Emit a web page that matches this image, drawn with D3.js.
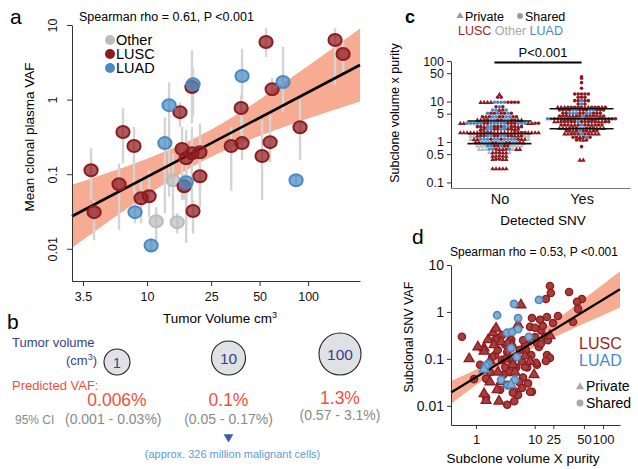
<!DOCTYPE html>
<html>
<head>
<meta charset="utf-8">
<script src="https://cdn.jsdelivr.net/npm/d3@7"></script>
<style>
  body { margin: 0; background: #fff; }
  text { font-family: "Liberation Sans", Arial, Helvetica, sans-serif; }
</style>
</head>
<body>
<svg id="fig" width="638" height="469"></svg>
<script>
// ---------- panel a data: [tumour volume, mean clonal VAF, low, high]
const aOther = [
  [11.4, 0.0234, 0.0122, 0.036], [14.5, 0.083, 0.0242, 0.191], [15.4, 0.0227, 0.0161, 0.03]
];
const aLUSC = [
  [4.49, 0.113, 0.045, 0.223], [4.69, 0.031, 0.013, 0.045], [6.7, 0.0735, 0.018, 0.14],
  [7.09, 0.367, 0.14, 0.77], [8.3, 0.238, 0.056, 0.43], [9.18, 0.0476, 0.022, 0.091],
  [10.3, 0.0507, 0.0265, 0.113], [16.0, 0.679, 0.43, 0.92], [16.5, 0.217, 0.045, 0.43],
  [17.0, 0.069, 0.045, 0.1], [17.5, 0.164, 0.012, 0.39], [19.0, 1.47, 0.48, 4.6],
  [19.0, 0.191, 0.036, 0.43], [19.3, 0.032, 0.016, 0.045], [21.3, 0.197, 0.06, 0.48],
  [21.3, 0.094, 0.036, 0.18], [33.3, 0.238, 0.06, 0.43], [38.4, 0.769, 0.333, 1.15],
  [38.9, 0.261, 0.154, 0.58], [51.8, 0.175, 0.045, 0.53], [54.8, 5.92, 3.72, 9.1],
  [58.1, 0.269, 0.145, 0.62], [59.8, 1.38, 1.05, 1.95], [89.1, 0.427, 0.154, 1.0],
  [147, 6.3, 1.57, 9.1], [165, 4.08, 2.34, 5.92]
];
const aLUAD = [
  [8.42, 0.031, 0.022, 0.061], [10.6, 0.0111, 0.009, 0.014], [12.9, 0.261, 0.03, 0.58],
  [13.7, 0.843, 0.05, 1.7], [17.5, 0.078, 0.04, 0.2], [19.3, 1.61, 0.6, 2.7],
  [38.9, 2.07, 1.0, 4.8], [69.9, 1.72, 0.68, 5.07], [84.2, 0.083, 0.07, 0.1]
];
const aFitX = [3.42, 210], aFitY = [0.0273, 2.91];
const aBandX = [3.42, 5, 10, 20, 40, 80, 210];
const aBandLo = [0.0103, 0.0186, 0.0525, 0.133, 0.27, 0.471, 0.942];
const aBandHi = [0.0723, 0.0948, 0.161, 0.307, 0.728, 2.02, 8.99];
const aXTicks = [4, 10, 25, 50, 100], aXTickLabels = ["3.5", "10", "25", "50", "100"];
const aYTicks = [10, 1, 0.1, 0.01];

// ---------- panel b data
const bVolumes = [1, 10, 100];
const bVAF = ["0.006%", "0.1%", "1.3%"];
const bCI = ["(0.001 - 0.03%)", "(0.05 - 0.17%)", "(0.57 - 3.1%)"];

// ---------- panel c data: rows of [value, points]  T/R = LUSC private/shared, b/B = LUAD, g/G = Other
const cNo = [
  [15.1, "T"], [12.7, "RR"], [9.55, "TTTTBBBBRRRR"], [7.44, "RBR"], [6.17, "BBTRB"],
  [5.11, "BRRBRRBR"], [4.21, "RTRBBRRBBRR"], [3.49, "TTRRBBRRBBRRTT"],
  [2.9, "TTBBBBBRRBBBBBRRRBBBTTRR"], [2.39, "RRTBBRRRBBRRTR"], [2.06, "TRBBRRBBRRTR"],
  [1.7, "TTTTTTRRRRTTTTTTRRRRTTTT"], [1.41, "ggTRRBBRRBBRRTTRgg"], [1.17, "gTTBBBRBBRBBBBRTTg"],
  [0.96, "RRBBBRRBBRRBBRT"], [0.8, "ggGBBRRBRRGGgg"], [0.66, "gggBBRTTRBgTT"],
  [0.544, "gTRRTTg"], [0.451, "TTRTT"], [0.374, "TRRTT"], [0.219, "TTTTT"]
];
const cYes = [
  [41, "R"], [37.4, "R"], [29.2, "R"], [21.2, "R"], [15.3, "RRRRR"], [12.7, "RRR"],
  [10.5, "RRBRR"], [8.67, "RBR"], [7.18, "TTTRRRRRTTRRRTR"], [6.17, "RRRRBBRRRBBRRR"],
  [5.11, "RRBBBRRBBRRR"], [4.39, "RRRTTRRBRRRRTR"], [3.76, "BBRRRTTTRRBRRTTRRRRRR"],
  [3.18, "TTRRRRRBRRRRRTTRR"], [2.63, "RRRTTRBRRTRRR"], [2.18, "TTTRRRBBRRRTTT"],
  [1.87, "RRTRBRRTRR"], [1.58, "TTRRRBRRTTT"], [1.31, "RRTRBR"], [1.12, "RRTR"],
  [0.766, "R"], [0.36, "TT"]
];
const cQuartNo = [0.91, 1.6, 3.3], cQuartYes = [2.13, 3.76, 6.6];
const cYTicks = [100, 50, 10, 5, 1, 0.5, 0.1];

// ---------- panel d data: [subclone volume x purity, subclonal VAF]
const dLUSCShared = [
  [0.6, 0.295], [14.6, 3.57], [15.1, 2.53], [12.6, 1.89], [29.2, 2.66], [46.5, 1.89], [39, 1.64],
  [40.4, 1.16], [33.7, 0.61], [13.1, 0.78], [19.5, 0.82], [16.3, 0.58], [10.2, 0.68], [12.2, 0.3],
  [13.6, 0.25], [9.8, 0.18], [13.1, 0.12], [14.6, 0.105], [9.1, 0.075], [7.6, 0.02], [10.5, 0.41],
  [8.8, 0.082], [1.44, 0.015], [4.0, 0.0125], [4.6, 0.017], [7.1, 0.02], [5.5, 0.04], [6.4, 0.066],
  [7.1, 0.48], [8.5, 0.46], [11.3, 0.5], [9.1, 0.22], [6.4, 0.24], [10.5, 0.21], [12.6, 0.09],
  [5.9, 0.068], [4.8, 0.032], [4.0, 0.021], [3.1, 0.0105], [0.93, 0.037], [2.0, 0.12], [2.57, 0.095],
  [3.1, 0.14], [3.7, 0.088], [2.9, 0.066], [2.2, 0.155], [1.8, 0.11], [3.4, 0.052], [4.3, 0.066],
  [5.3, 0.088], [4.9, 0.155], [5.9, 0.2], [2.7, 0.046], [3.1, 0.028], [3.8, 0.019], [1.66, 0.052],
  [1.16, 0.075], [1.44, 0.038], [2.4, 0.022], [5.3, 0.024], [6.6, 0.03], [5.5, 0.25], [2.0, 0.254],
  [2.57, 0.32], [3.6, 0.254], [2.9, 0.2], [7.4, 0.12], [6.1, 0.155], [7.6, 0.74], [8.5, 0.29]
];
const dLUSCPrivate = [
  [0.78, 0.1], [1.34, 0.17], [1.34, 0.145], [1.55, 0.254], [1.86, 0.36], [1.92, 0.2], [2.48, 0.23],
  [3.19, 0.22], [5.1, 1.41], [4.6, 0.53], [2.22, 0.052], [2.48, 0.033], [2.15, 0.022], [2.3, 0.0125],
  [1.44, 0.013], [8.2, 0.046], [14.6, 0.31], [4.1, 0.052], [5.9, 0.115], [3.7, 0.2], [1.66, 0.09],
  [2.9, 0.1], [3.8, 0.075], [1.07, 0.18], [7.1, 0.088], [2.07, 0.45], [1.34, 0.018], [1.66, 0.032]
];
const dLUADShared = [
  [2.15, 0.85], [3.97, 1.48], [4.6, 0.74], [3.08, 0.36], [3.69, 0.375], [4.6, 0.43], [6.8, 0.295],
  [9.8, 1.8], [3.55, 0.17], [4.4, 0.11], [1.55, 0.078], [2.48, 0.0357], [4.1, 0.0357], [1.44, 0.071],
  [3.19, 0.027]
];
const dLUADPrivate = [[1.34, 0.06], [3.55, 0.028]];
const dFitX = [0.404, 185], dFitY = [0.0192, 3.04];
const dBandX = [0.404, 1, 3.98, 15.8, 63.1, 185];
const dBandLo = [0.0109, 0.0276, 0.101, 0.271, 0.646, 1.25];
const dBandHi = [0.0337, 0.0596, 0.16, 0.585, 2.41, 7.4];
const dXTicks = [1, 8.4, 16.5, 50, 100], dXTickLabels = ["1", "10", "25", "50", "100"];
const dYTicks = [10, 1, 0.1, 0.01];

// ---------- colours
const RED = "#8e1b1f", BLUE = "#4a8ac4", GREY = "#bcbcbc", BAND = "#f6ab92";
const typeColor = { T: RED, R: RED, b: BLUE, B: BLUE, g: GREY, G: GREY };

const svg = d3.select("#fig");

function styleAxis(g, size) {
  g.selectAll("path.domain").attr("stroke", "#333").attr("stroke-width", 1);
  g.selectAll(".tick line").attr("stroke", "#333");
  g.selectAll(".tick text").attr("font-size", size).attr("fill", "#111")
    .style("font-family", '"Liberation Sans", Arial, sans-serif');
}

// ================= panel a =================
const ga = svg.append("g");
const ax = d3.scaleLog().domain([3.42, 210]).range([72, 360]);
const ay = d3.scaleLog().domain([0.0037, 10]).range([281, 25]);

ga.append("path").datum(aBandX)
  .attr("d", d3.area().curve(d3.curveMonotoneX)
    .x(d => ax(d))
    .y0((d, i) => ay(aBandLo[i]))
    .y1((d, i) => ay(aBandHi[i])))
  .attr("fill", BAND);

const aAll = [].concat(
  aOther.map(d => ({ d: d, c: GREY })),
  aLUSC.map(d => ({ d: d, c: RED })),
  aLUAD.map(d => ({ d: d, c: BLUE }))
);

ga.selectAll(".ebar").data(aAll).join("line")
  .attr("x1", p => ax(p.d[0])).attr("x2", p => ax(p.d[0]))
  .attr("y1", p => ay(p.d[2])).attr("y2", p => ay(p.d[3]))
  .attr("stroke", "#d4d4d4").attr("stroke-width", 2.4);

ga.append("line")
  .attr("x1", ax(aFitX[0])).attr("y1", ay(aFitY[0]))
  .attr("x2", ax(aFitX[1])).attr("y2", ay(aFitY[1]))
  .attr("stroke", "#000").attr("stroke-width", 2.6);

ga.selectAll(".pt").data(aAll).join("ellipse")
  .attr("cx", p => ax(p.d[0])).attr("cy", p => ay(p.d[1]))
  .attr("rx", 6.6).attr("ry", 6)
  .attr("fill", p => p.c).attr("fill-opacity", 0.72)
  .attr("stroke", p => p.c).attr("stroke-width", 2);

const axA = ga.append("g").attr("transform", "translate(0,281)")
  .call(d3.axisBottom(ax).tickValues(aXTicks).tickFormat((d, i) => aXTickLabels[i])
    .tickSize(5).tickSizeOuter(0).tickPadding(6));
styleAxis(axA, 12.5);
const ayA = ga.append("g").attr("transform", "translate(72,0)")
  .call(d3.axisLeft(ay).tickValues(aYTicks).tickFormat(d3.format("~g")).tickSize(5).tickSizeOuter(0));
styleAxis(ayA, 12.5);
ayA.selectAll(".tick text").attr("transform", "rotate(-90)")
  .attr("text-anchor", "middle").attr("x", 0).attr("y", -15).attr("dy", 0);

ga.append("text").attr("x", 10).attr("y", 24).attr("font-size", 21).text("a");
ga.append("text").attr("x", 79).attr("y", 21).attr("font-size", 12.5).text("Spearman rho = 0.61, P <0.001");
ga.append("text").attr("transform", "translate(34,137) rotate(-90)")
  .attr("text-anchor", "middle").attr("font-size", 13.5).text("Mean clonal plasma VAF");
ga.append("text").attr("x", 220).attr("y", 323).attr("text-anchor", "middle").attr("font-size", 13.5)
  .text("Tumor Volume cm").append("tspan").attr("dy", -5).attr("font-size", 9).text("3");

const aLegend = [["Other", GREY], ["LUSC", RED], ["LUAD", BLUE]];
aLegend.forEach((l, i) => {
  ga.append("circle").attr("cx", 110).attr("cy", 40 + i * 14).attr("r", 5).attr("fill", l[1]);
  ga.append("text").attr("x", 116).attr("y", 45 + i * 14).attr("font-size", 14.5).text(l[0]);
});

// ================= panel b =================
const gb = svg.append("g");
const bx = d3.scaleLog().domain([1, 100]).range([117, 340]);
const br = d3.scaleLog().domain([1, 100]).range([13, 21]);
gb.append("text").attr("x", 7).attr("y", 329).attr("font-size", 21).text("b");
gb.append("text").attr("x", 12).attr("y", 347).attr("font-size", 13).attr("fill", "#3a3d8c").text("Tumor volume");
const cm = gb.append("text").attr("x", 97).attr("y", 365).attr("font-size", 13).attr("fill", "#3a3d8c")
  .attr("text-anchor", "end");
cm.append("tspan").text("(cm");
cm.append("tspan").attr("dy", -5).attr("font-size", 9).text("3");
cm.append("tspan").attr("dy", 5).text(")");
gb.selectAll(".vol").data(bVolumes).join("circle")
  .attr("cx", d => bx(d)).attr("cy", d => 375 - br(d)).attr("r", d => br(d))
  .attr("fill", "#dfe1e4").attr("stroke", "#222").attr("stroke-width", 1.1);
gb.selectAll(".voltxt").data(bVolumes).join("text")
  .attr("x", d => bx(d)).attr("y", d => 375 - br(d) + 5.5).attr("text-anchor", "middle")
  .attr("font-size", d => d === 1 ? 14 : 15.5).attr("fill", "#3a3d8c").text(d => d);
gb.append("text").attr("x", 12).attr("y", 390).attr("font-size", 13).attr("fill", "#f0503c").text("Predicted VAF:");
gb.selectAll(".vaf").data(bVolumes).join("text")
  .attr("x", d => bx(d)).attr("y", (d, i) => i === 2 ? 404 : 406).attr("text-anchor", "middle")
  .attr("font-size", 17.5).attr("fill", "#f0503c").text((d, i) => bVAF[i]);
gb.selectAll(".ci").data(bVolumes).join("text")
  .attr("x", (d, i) => bx(d) + (i === 0 ? 5 : 0)).attr("y", (d, i) => i === 2 ? 420 : 424)
  .attr("text-anchor", (d, i) => i === 0 ? "start" : "middle")
  .attr("dx", (d, i) => i === 0 ? -57 : 0)
  .attr("font-size", 14).attr("fill", "#8a8a8a").text((d, i) => bCI[i]);
gb.append("text").attr("x", 15).attr("y", 424).attr("font-size", 12).attr("fill", "#8a8a8a").text("95% CI");
gb.append("path").attr("d", d3.symbol().type(d3.symbolTriangle).size(40)())
  .attr("transform", `translate(${bx(10)},437) rotate(180)`).attr("fill", "#3a5ca8");
gb.append("text").attr("x", bx(10) + 4).attr("y", 458).attr("text-anchor", "middle")
  .attr("font-size", 11).attr("fill", "#5b9bd5").text("(approx. 326 million malignant cells)");

// ================= panel c =================
const gc = svg.append("g");
const cy = d3.scaleLog().domain([0.073, 100]).range([188, 61]);
const cx = d3.scalePoint().domain(["No", "Yes"]).range([451, 630]).padding(0.59);
const cStep = 3.4;
const tri = d3.symbol().type(d3.symbolTriangle);

const cPts = [];
[["No", cNo], ["Yes", cYes]].forEach(([grp, rows]) => {
  rows.forEach(([v, s]) => {
    s.split("").forEach((k, i) => {
      cPts.push({ x: cx(grp) + (i - (s.length - 1) / 2) * cStep, y: cy(v), k: k });
    });
  });
});
gc.selectAll(".cdot").data(cPts.filter(p => "RBG".includes(p.k))).join("circle")
  .attr("cx", p => p.x).attr("cy", p => p.y).attr("r", 1.8).attr("fill", p => typeColor[p.k]);
gc.selectAll(".ctri").data(cPts.filter(p => "Tbg".includes(p.k))).join("path")
  .attr("d", tri.size(10)()).attr("transform", p => `translate(${p.x},${p.y + 0.3})`)
  .attr("fill", p => typeColor[p.k]);

[["No", cQuartNo], ["Yes", cQuartYes]].forEach(([grp, q]) => {
  gc.selectAll(null).data(q).join("line")
    .attr("x1", cx(grp) - 32).attr("x2", cx(grp) + 32)
    .attr("y1", d => cy(d)).attr("y2", d => cy(d))
    .attr("stroke", "#111").attr("stroke-width", 1.6);
});

const cyA = gc.append("g").attr("transform", "translate(451,0)")
  .call(d3.axisLeft(cy).tickValues(cYTicks).tickFormat(d3.format("~g")).tickSize(4).tickSizeOuter(0));
styleAxis(cyA, 12.5);
const cxA = gc.append("g").attr("transform", "translate(0,188)")
  .call(d3.axisBottom(cx).tickSize(0).tickPadding(6));
styleAxis(cxA, 14.5);
cxA.select("path.domain").attr("stroke", "#777");

gc.append("line").attr("x1", cx("No") - 5).attr("x2", cx("Yes")).attr("y1", 62.5).attr("y2", 62.5)
  .attr("stroke", "#000").attr("stroke-width", 2.2);
gc.append("text").attr("x", 543).attr("y", 57).attr("text-anchor", "middle").attr("font-size", 13).text("P<0.001");
gc.append("text").attr("x", 405).attr("y", 23).attr("font-size", 18).attr("font-weight", "bold").text("c");
gc.append("text").attr("transform", "translate(399,113) rotate(-90)")
  .attr("text-anchor", "middle").attr("font-size", 12.5).text("Subclone volume x purity");
gc.append("text").attr("x", 543).attr("y", 225).attr("text-anchor", "middle").attr("font-size", 13.5).text("Detected SNV");
gc.append("path").attr("d", tri.size(22)()).attr("transform", "translate(460,16)").attr("fill", "#9a9a9a");
gc.append("text").attr("x", 465).attr("y", 20.5).attr("font-size", 12.5).text("Private");
gc.append("circle").attr("cx", 520).attr("cy", 16).attr("r", 3).attr("fill", "#9a9a9a");
gc.append("text").attr("x", 525).attr("y", 20.5).attr("font-size", 12.5).text("Shared");
const cLeg = gc.append("text").attr("x", 458).attr("y", 35).attr("font-size", 12.5);
cLeg.append("tspan").attr("fill", "#a01e24").text("LUSC ");
cLeg.append("tspan").attr("fill", "#a9a9a9").text("Other ");
cLeg.append("tspan").attr("fill", BLUE).text("LUAD");

// ================= panel d =================
const gd = svg.append("g");
const dx = d3.scaleLog().domain([0.404, 185]).range([451, 620]);
const dy = d3.scaleLog().domain([0.0039, 10]).range([425, 265]);

gd.append("path").datum(dBandX)
  .attr("d", d3.area().curve(d3.curveMonotoneX)
    .x(d => dx(d))
    .y0((d, i) => dy(dBandLo[i]))
    .y1((d, i) => dy(dBandHi[i])))
  .attr("fill", BAND);

gd.selectAll(".dr").data(dLUSCShared).join("circle")
  .attr("cx", d => dx(d[0])).attr("cy", d => dy(d[1])).attr("r", 3.6)
  .attr("fill", "#a3403c").attr("stroke", RED).attr("stroke-width", 1.4);
gd.selectAll(".dt").data(dLUSCPrivate).join("path")
  .attr("d", tri.size(42)()).attr("transform", d => `translate(${dx(d[0])},${dy(d[1])})`)
  .attr("fill", "#a3403c").attr("stroke", RED).attr("stroke-width", 1.3);
gd.append("line")
  .attr("x1", dx(dFitX[0])).attr("y1", dy(dFitY[0]))
  .attr("x2", dx(dFitX[1])).attr("y2", dy(dFitY[1]))
  .attr("stroke", "#000").attr("stroke-width", 2.2);
gd.selectAll(".db").data(dLUADShared).join("circle")
  .attr("cx", d => dx(d[0])).attr("cy", d => dy(d[1])).attr("r", 3.6)
  .attr("fill", "#86acd2").attr("stroke", BLUE).attr("stroke-width", 1.6);
gd.selectAll(".dbt").data(dLUADPrivate).join("path")
  .attr("d", tri.size(42)()).attr("transform", d => `translate(${dx(d[0])},${dy(d[1])})`)
  .attr("fill", "#86acd2").attr("stroke", BLUE).attr("stroke-width", 1.4);

const dxA = gd.append("g").attr("transform", "translate(0,425)")
  .call(d3.axisBottom(dx).tickValues(dXTicks).tickFormat((d, i) => dXTickLabels[i])
    .tickSize(4).tickSizeOuter(0).tickPadding(6));
styleAxis(dxA, 13);
const dyA = gd.append("g").attr("transform", "translate(451,0)")
  .call(d3.axisLeft(dy).tickValues(dYTicks).tickFormat(d3.format("~g")).tickSize(4).tickSizeOuter(0));
styleAxis(dyA, 14);

gd.append("text").attr("x", 412).attr("y", 244).attr("font-size", 21).text("d");
gd.append("text").attr("x", 450).attr("y", 256).attr("font-size", 12).text("Spearman rho = 0.53, P <0.001");
gd.append("text").attr("transform", "translate(413,337) rotate(-90)")
  .attr("text-anchor", "middle").attr("font-size", 12.5).text("Subclonal SNV VAF");
gd.append("text").attr("x", 523).attr("y", 463).attr("text-anchor", "middle").attr("font-size", 13.5)
  .text("Subclone volume X purity");
gd.append("text").attr("x", 579).attr("y", 349).attr("font-size", 16).attr("fill", "#a01e24").text("LUSC");
gd.append("text").attr("x", 579).attr("y", 366).attr("font-size", 16).attr("fill", BLUE).text("LUAD");
gd.append("path").attr("d", tri.size(28)()).attr("transform", "translate(580,387)").attr("fill", "#a9a9a9");
gd.append("text").attr("x", 586).attr("y", 391).attr("font-size", 14).text("Private");
gd.append("circle").attr("cx", 580).attr("cy", 403).attr("r", 3.5).attr("fill", "#a9a9a9");
gd.append("text").attr("x", 586).attr("y", 408).attr("font-size", 14).text("Shared");
</script>
</body>
</html>
